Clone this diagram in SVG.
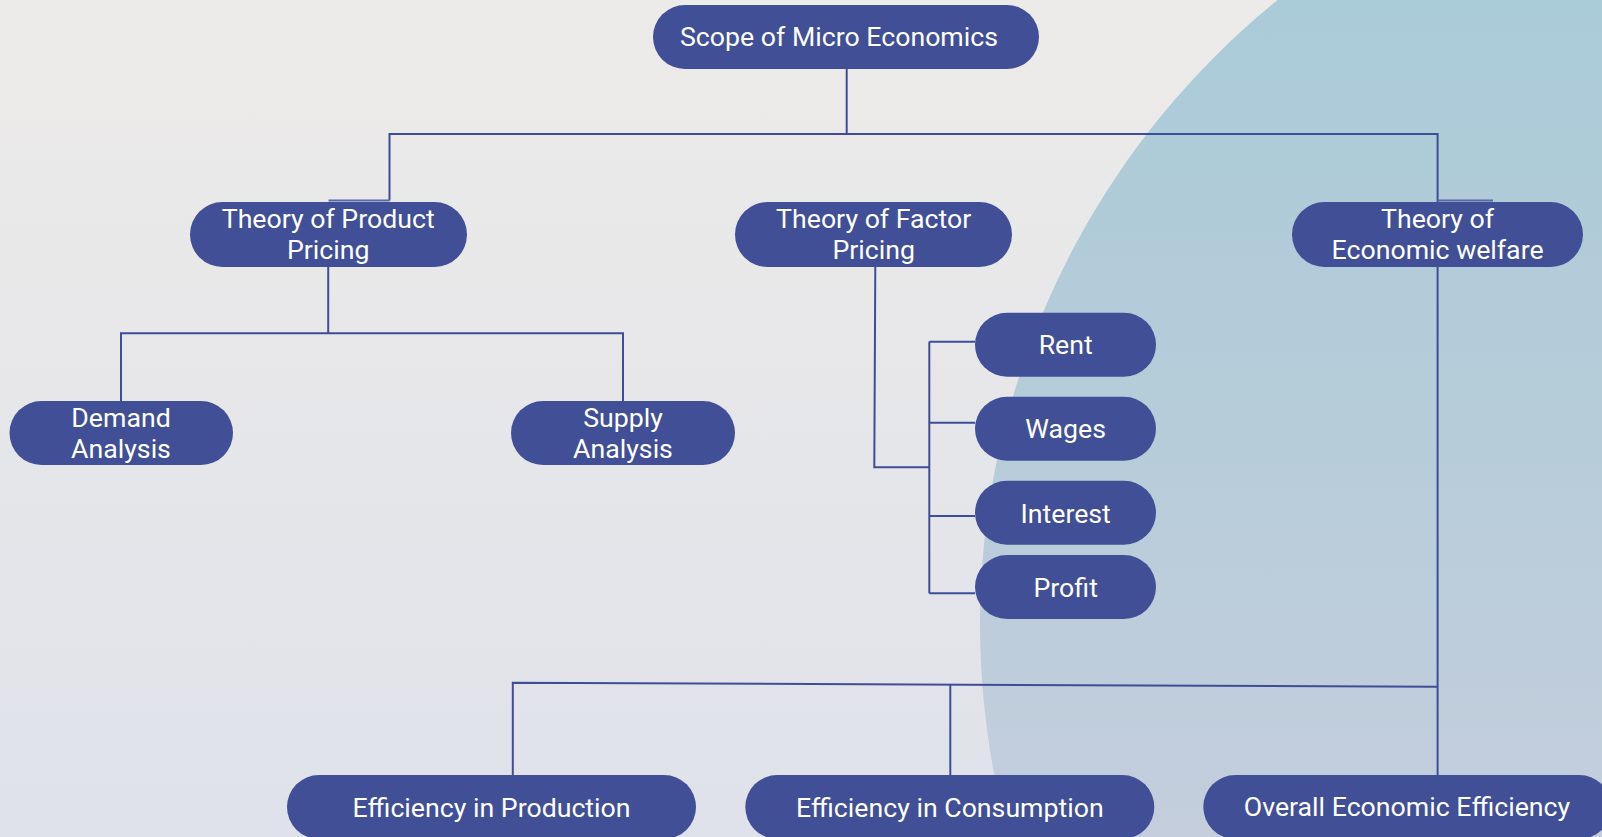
<svg xmlns="http://www.w3.org/2000/svg" width="1602" height="837" viewBox="0 0 1602 837">
  <defs>
    <linearGradient id="bg" x1="0" y1="0" x2="0" y2="1">
      <stop offset="0" stop-color="#edebe9"/>
      <stop offset="1" stop-color="#dfe2ea"/>
    </linearGradient>
    <linearGradient id="arc" gradientUnits="userSpaceOnUse" x1="0" y1="0" x2="0" y2="837">
      <stop offset="0" stop-color="#aacbd8"/>
      <stop offset="0.5" stop-color="#b6ccd9"/>
      <stop offset="1" stop-color="#c4cedd"/>
    </linearGradient>
  </defs>
  <style>
    .node { fill: #414f96; }
    .label { fill: #ffffff; font-family: Roboto, "Liberation Sans", sans-serif; font-size: 26.7px; text-anchor: middle; }
    .wire { fill: none; stroke: #3f4d98; stroke-width: 2; }
    .wire-faint { fill: none; stroke: #5a67a8; stroke-width: 2; }
  </style>

  <!-- backdrop -->
  <rect x="0" y="0" width="1602" height="837" fill="url(#bg)"/>
  <circle cx="1783" cy="624" r="803" fill="url(#arc)"/>

  <!-- connectors -->
  <g id="connectors">
    <polyline class="wire" points="846.7,69 846.7,134"/>
    <polyline class="wire" points="389.5,200.5 389.5,134 1437.6,134 1437.6,202"/>
    <polyline class="wire-faint" points="328.5,200.5 389.5,200.5"/>
    <polyline class="wire-faint" points="1437.6,200.5 1493,200.5"/>

    <polyline class="wire" points="328.2,267 328.2,333.3"/>
    <polyline class="wire" points="121,401 121,333.3 623,333.3 623,401"/>

    <polyline class="wire" points="875.3,267 874.3,467.3 929.3,467.3"/>
    <polyline class="wire" points="929.3,341.7 929.3,593.3"/>
    <polyline class="wire" points="929.3,341.7 975,341.7"/>
    <polyline class="wire" points="929.3,422.7 975,422.7"/>
    <polyline class="wire" points="929.3,516 975,516"/>
    <polyline class="wire" points="929.3,593.3 975,593.3"/>

    <polyline class="wire" points="1437.6,267 1437.6,775"/>
    <polyline class="wire" points="512.8,775 512.8,682.7 1437.6,686.7"/>
    <polyline class="wire" points="950.3,684.5 950.3,775"/>
  </g>

  <!-- root -->
  <g id="scope">
    <rect class="node" x="653" y="5" width="386" height="64" rx="32"/>
    <text class="label" x="839" y="46">Scope of Micro Economics</text>
  </g>

  <!-- second level -->
  <g id="product-pricing">
    <rect class="node" x="190" y="202" width="277" height="65" rx="32.5"/>
    <text class="label" x="328.2" y="228">Theory of Product</text>
    <text class="label" x="328.2" y="259">Pricing</text>
  </g>
  <g id="factor-pricing">
    <rect class="node" x="735" y="202" width="277" height="65" rx="32.5"/>
    <text class="label" x="873.7" y="228">Theory of Factor</text>
    <text class="label" x="873.7" y="259">Pricing</text>
  </g>
  <g id="economic-welfare">
    <rect class="node" x="1292" y="202" width="291" height="65" rx="32.5"/>
    <text class="label" x="1437.6" y="228">Theory of</text>
    <text class="label" x="1437.6" y="259">Economic welfare</text>
  </g>

  <!-- product pricing branches -->
  <g id="demand">
    <rect class="node" x="9.5" y="401" width="223.5" height="64" rx="32"/>
    <text class="label" x="121" y="427">Demand</text>
    <text class="label" x="121" y="458">Analysis</text>
  </g>
  <g id="supply">
    <rect class="node" x="511" y="401" width="224" height="64" rx="32"/>
    <text class="label" x="623" y="427">Supply</text>
    <text class="label" x="623" y="458">Analysis</text>
  </g>

  <!-- factor pricing branches -->
  <g id="rent">
    <rect class="node" x="975" y="312.7" width="181" height="64" rx="32"/>
    <text class="label" x="1065.7" y="354">Rent</text>
  </g>
  <g id="wages">
    <rect class="node" x="975" y="396.7" width="181" height="64" rx="32"/>
    <text class="label" x="1065.7" y="437.7">Wages</text>
  </g>
  <g id="interest">
    <rect class="node" x="975" y="480.7" width="181" height="64" rx="32"/>
    <text class="label" x="1065.7" y="522.7">Interest</text>
  </g>
  <g id="profit">
    <rect class="node" x="975" y="555" width="181" height="64" rx="32"/>
    <text class="label" x="1065.7" y="596.7">Profit</text>
  </g>

  <!-- welfare branches -->
  <g id="production">
    <rect class="node" x="287" y="775" width="409" height="64" rx="32"/>
    <text class="label" x="491.5" y="816.7">Efficiency in Production</text>
  </g>
  <g id="consumption">
    <rect class="node" x="745.3" y="775" width="409" height="64" rx="32"/>
    <text class="label" x="949.8" y="816.7">Efficiency in Consumption</text>
  </g>
  <g id="overall">
    <rect class="node" x="1203.3" y="775" width="408" height="64" rx="32"/>
    <text class="label" x="1407" y="816.3">Overall Economic Efficiency</text>
  </g>
</svg>
